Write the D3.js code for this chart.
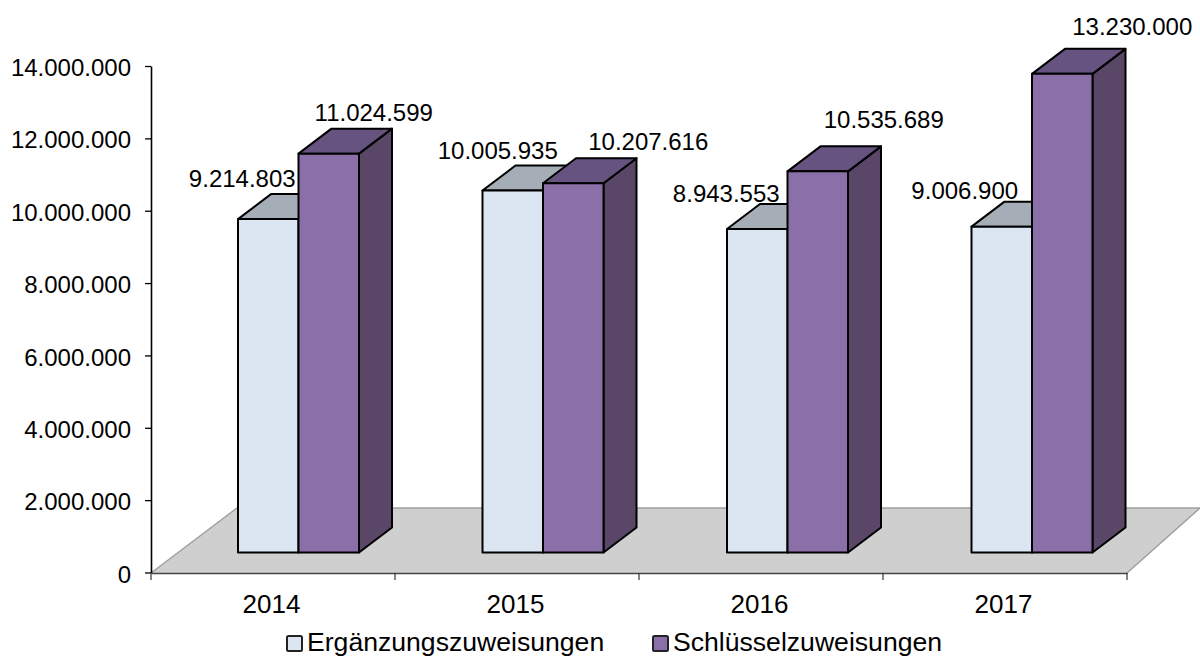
<!DOCTYPE html>
<html>
<head>
<meta charset="utf-8">
<script src="https://cdnjs.cloudflare.com/ajax/libs/d3/7.8.5/d3.min.js"></script>
<style>
    html, body { margin: 0; padding: 0; background: #fff; }
    svg { display: block; }
    text { font-family: "Liberation Sans", Arial, sans-serif; font-size: 24px; fill: #000; }
</style>
</head>
<body>
<svg id="chart" width="1200" height="657"></svg>
<script>
const years = ["2014", "2015", "2016", "2017"];
const seriesNames = ["Ergänzungszuweisungen", "Schlüsselzuweisungen"];
const ergaenzung = [9214803, 10005935, 8943553, 9006900];
const schluessel = [11024599, 10207616, 10535689, 13230000];
const yTicks = [0, 2000000, 4000000, 6000000, 8000000, 10000000, 12000000, 14000000];

const svg = d3.select("#chart");
const de = d3.formatLocale({decimal: ",", thousands: ".", grouping: [3], currency: ["", "€"]}).format(",d");

const x0 = d3.scaleBand().domain(years).range([151, 1127]);
// the bars drift slightly against the axis ticks in the original
const xBars = d3.scaleBand().domain(years).range([151, 1129]);
const x1 = d3.scaleBand().domain(seriesNames).range([87, 208]);
const y = d3.scaleLinear().domain([0, 14000000]).range([572.5, 66]);

// fake 3d offsets
const depth = {dx: 33, dy: -25};
const baseLift = 20;

const faces = [
    {front: "#dce6f2", top: "#a5aeb6", side: "#a5aeb6"},
    {front: "#8a6fa8", top: "#675380", side: "#5a4768"}
];

// floor
svg.append("polygon")
    .attr("points", [[151, 573], [1127, 573], [1200, 508], [237, 508]].join(" "))
    .attr("fill", "#cfcfcf");
svg.append("path")
    .attr("d", "M151,573L237,508L1200,508M1127,573L1200,508")
    .attr("fill", "none").attr("stroke", "#a0a0a0").attr("stroke-width", 1.5);

// axes
const yAxis = svg.append("g")
    .attr("transform", "translate(151,0)")
    .call(d3.axisLeft(y).tickValues(yTicks).tickFormat(de).tickSize(6).tickSizeOuter(0));
yAxis.select(".domain").attr("stroke", "#000").attr("stroke-width", 1.6);
yAxis.selectAll(".tick line").attr("stroke", "#000").attr("stroke-width", 1.3);
yAxis.selectAll("text").attr("x", -20).attr("dy", "0.4em").style("font-size", "24px");

const xAxis = svg.append("g")
    .attr("transform", "translate(0,573)")
    .call(d3.axisBottom(x0).tickSize(0).tickPadding(22));
xAxis.select(".domain").attr("stroke", "#444").attr("stroke-width", 1.6);
xAxis.selectAll("text").style("font-size", "26px").attr("dy", "0.71em").attr("dx", -1.5);
xAxis.selectAll(".sep")
    .data(years.map(d => x0(d)).concat([x0.range()[1]]))
    .join("line")
    .attr("class", "sep")
    .attr("x1", d => d).attr("x2", d => d)
    .attr("y1", 0).attr("y2", 7)
    .attr("stroke", "#333").attr("stroke-width", 1.2);

// bars
const barGroup = svg.append("g").attr("stroke", "#000").attr("stroke-width", 2).attr("stroke-linejoin", "round");
const barData = years.flatMap((year, i) => [
    {year, series: 0, value: ergaenzung[i]},
    {year, series: 1, value: schluessel[i]}
]);
barData.forEach(d => {
    const left = xBars(d.year) + x1(seriesNames[d.series]);
    const right = left + x1.bandwidth();
    const topY = y(d.value) - baseLift;
    const bottom = y(0) - baseLift;
    const g = barGroup.append("g");
    g.append("polygon")
        .attr("points", [[right, topY], [right + depth.dx, topY + depth.dy], [right + depth.dx, bottom + depth.dy], [right, bottom]].join(" "))
        .attr("fill", faces[d.series].side);
    g.append("polygon")
        .attr("points", [[left, topY], [left + depth.dx, topY + depth.dy], [right + depth.dx, topY + depth.dy], [right, topY]].join(" "))
        .attr("fill", faces[d.series].top);
    g.append("rect")
        .attr("x", left).attr("y", topY)
        .attr("width", x1.bandwidth()).attr("height", bottom - topY)
        .attr("fill", faces[d.series].front);
});

// labels were moved by hand in the original, so each one has its own nudge
const labelNudge = [
    [[-26, -41], [-15, -40], [-31, -36], [-37, -36]],
    [[45, -41], [75, -42], [66, -52], [70, -47]]
];
svg.append("g").selectAll("text")
    .data(barData)
    .join("text")
    .attr("text-anchor", "middle")
    .attr("dy", "0.36em")
    .attr("x", d => xBars(d.year) + x1(seriesNames[d.series]) + x1.bandwidth() / 2 + labelNudge[d.series][years.indexOf(d.year)][0])
    .attr("y", d => y(d.value) - baseLift + labelNudge[d.series][years.indexOf(d.year)][1])
    .text(d => de(d.value));

// legend, baseline kept just high enough for the descenders to fit
const legend = svg.append("g").selectAll("g")
    .data(seriesNames)
    .join("g")
    .attr("transform", (d, i) => `translate(${[287, 653][i]},636)`);
legend.append("rect")
    .attr("width", 15).attr("height", 15)
    .attr("rx", 1.5)
    .attr("fill", (d, i) => faces[i].front)
    .attr("stroke", "#222").attr("stroke-width", 2);
legend.append("text")
    .attr("x", 20).attr("y", 15)
    .style("font-size", "26.6px")
    .text(d => d);
</script>
</body>
</html>
